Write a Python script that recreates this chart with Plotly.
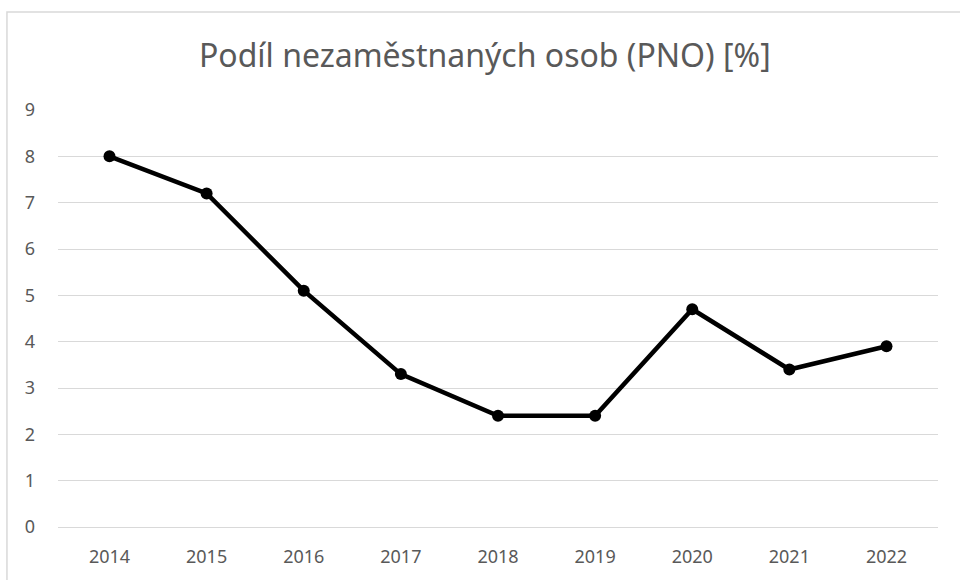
import plotly.graph_objects as go

years = ["2014", "2015", "2016", "2017", "2018", "2019", "2020", "2021", "2022"]
pno = [8.0, 7.2, 5.1, 3.3, 2.4, 2.4, 4.7, 3.4, 3.9]
title_text = "Podíl nezaměstnaných osob (PNO) [%]"

fig = go.Figure()
fig.add_trace(go.Scatter(
    x=years, y=pno, mode="lines+markers",
    line=dict(color="black", width=4.5),
    marker=dict(color="black", size=12),
    showlegend=False,
))

font_family = "Noto Sans, Open Sans, sans-serif"
fig.update_layout(
    width=960, height=580,
    paper_bgcolor="white", plot_bgcolor="white",
    margin=dict(l=58, r=22, t=110, b=53),
    title=dict(text=title_text, x=0.505, xanchor="center", y=1 - 56 / 580, yanchor="middle",
               font=dict(family=font_family, size=32, color="#595959")),
    font=dict(family=font_family, size=18, color="#595959"),
    xaxis=dict(type="category", showgrid=False, showline=False, zeroline=False,
               ticks="", ticklabelstandoff=17, tickfont=dict(size=18, color="#595959")),
    yaxis=dict(range=[0, 9], dtick=1, showgrid=True, gridcolor="#d9d9d9", gridwidth=1,
               zeroline=True, zerolinecolor="#d9d9d9", zerolinewidth=1,
               showline=False, ticks="", ticklabelstandoff=22,
               tickfont=dict(size=18, color="#595959")),
    shapes=[dict(type="rect", xref="paper", yref="paper",
                 x0=-0.058, x1=1.1, y0=-0.3, y1=1.235,
                 line=dict(color="#d9d9d9", width=1.5), fillcolor="rgba(0,0,0,0)", layer="below")],
)

fig.write_html("out.html", config={"displayModeBar": False},
               post_script="document.body.style.margin='0';")
